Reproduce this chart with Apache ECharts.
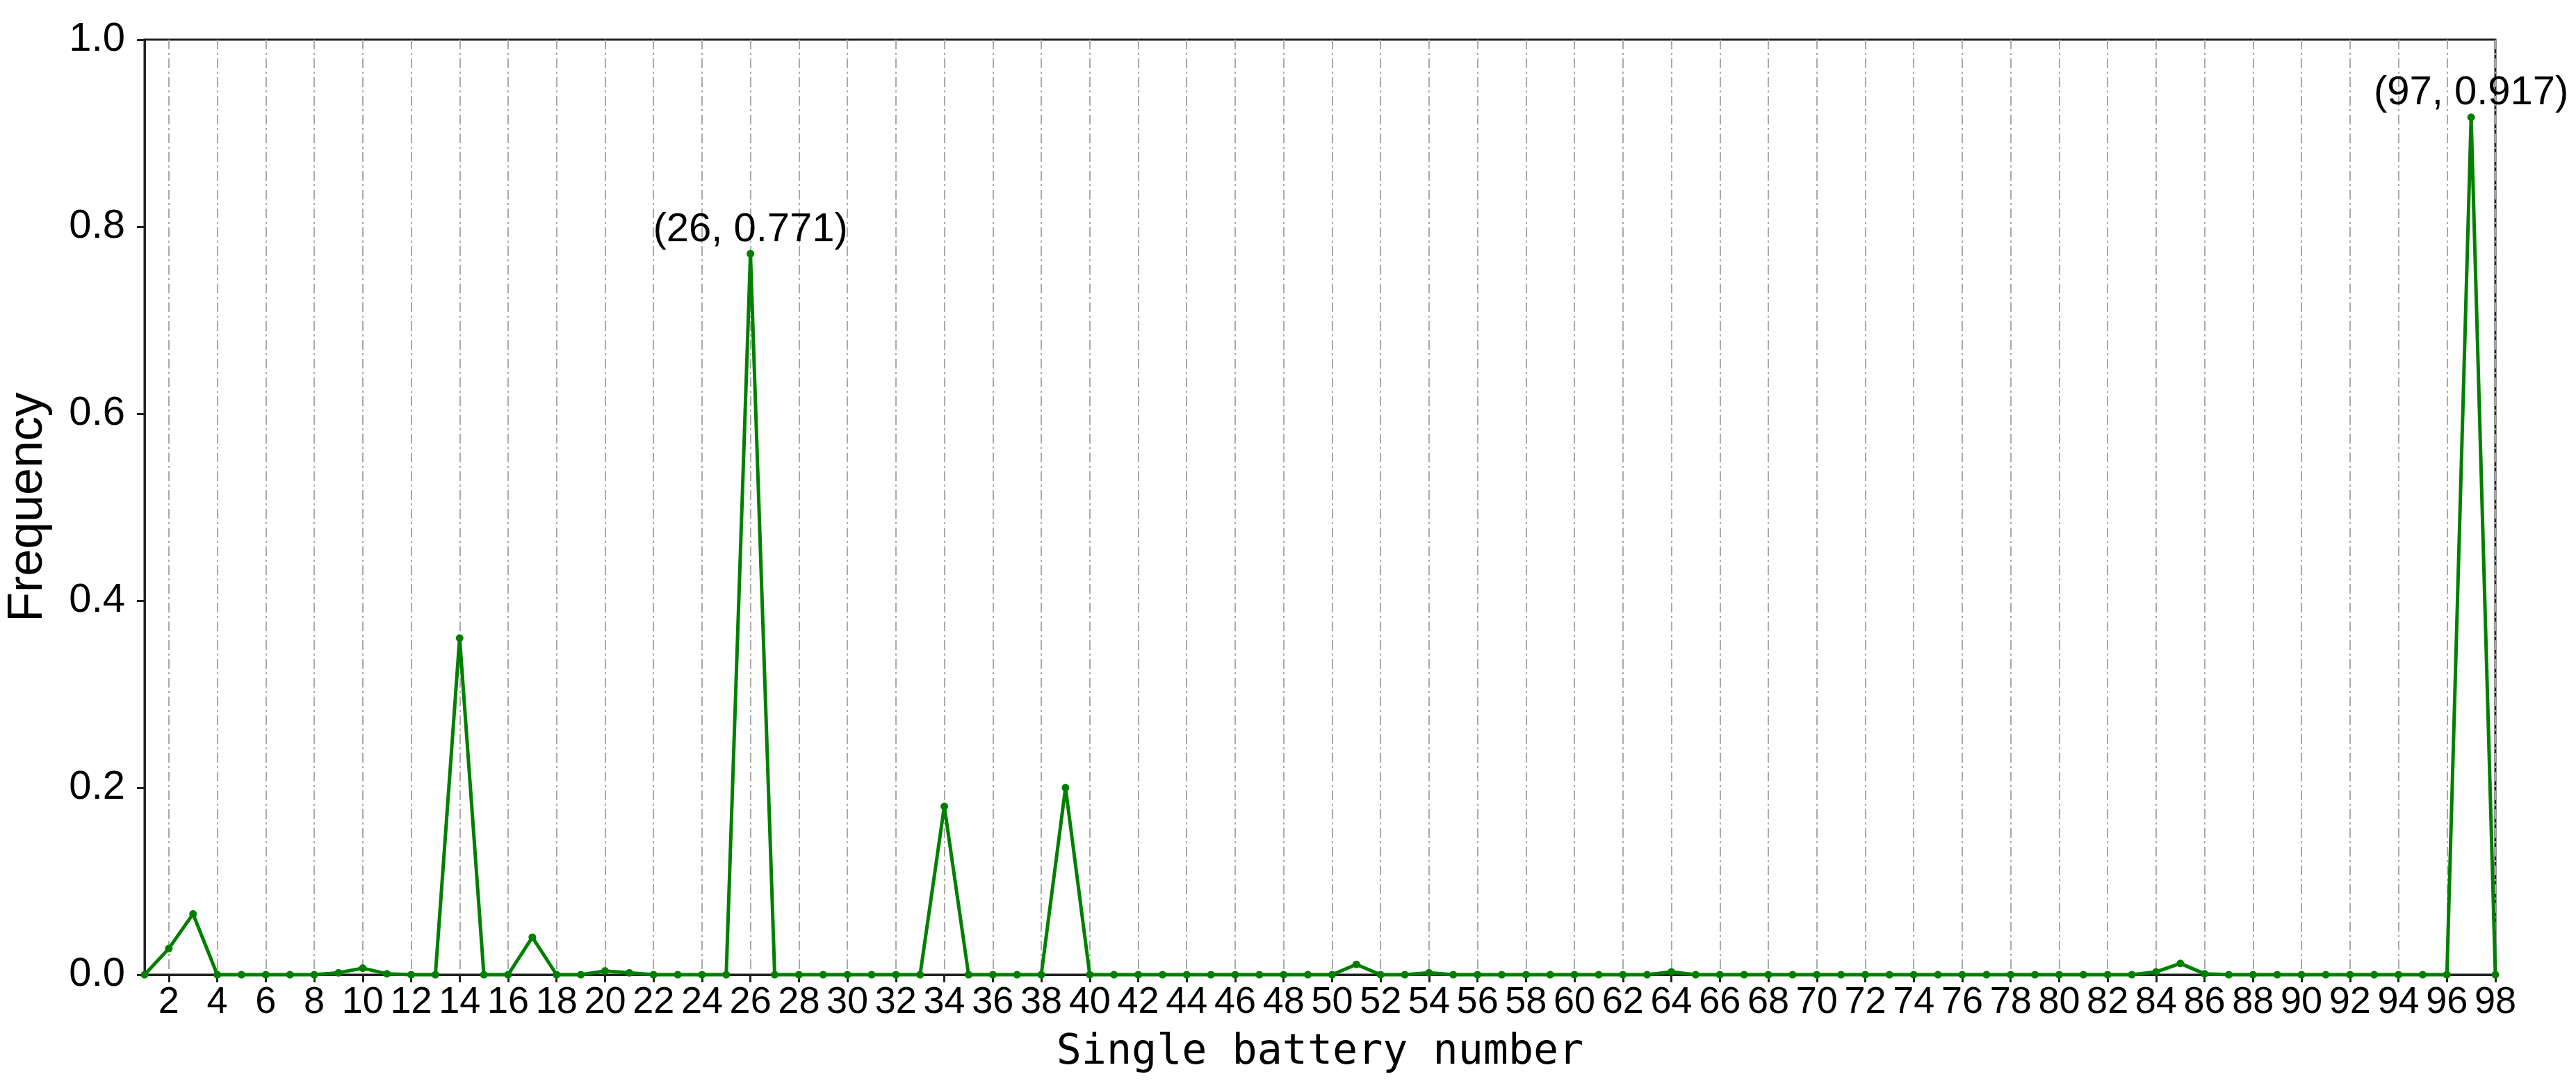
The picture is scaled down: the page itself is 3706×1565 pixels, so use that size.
<!DOCTYPE html>
<html>
<head>
<meta charset="utf-8">
<script src="https://cdn.jsdelivr.net/npm/echarts@6/dist/echarts.min.js"></script>
<style>
html,body{margin:0;padding:0;background:#fff;}
#chart{width:3706px;height:1565px;}
</style>
</head>
<body>
<div id="chart"></div>
<script>
const batteryNumbers = [1,2,3,4,5,6,7,8,9,10,11,12,13,14,15,16,17,18,19,20,
  21,22,23,24,25,26,27,28,29,30,31,32,33,34,35,36,37,38,39,40,
  41,42,43,44,45,46,47,48,49,50,51,52,53,54,55,56,57,58,59,60,
  61,62,63,64,65,66,67,68,69,70,71,72,73,74,75,76,77,78,79,80,
  81,82,83,84,85,86,87,88,89,90,91,92,93,94,95,96,97,98];
const frequency = [
  0, 0.028, 0.065, 0, 0, 0, 0, 0, 0.002, 0.007,
  0.001, 0, 0, 0.36, 0, 0, 0.04, 0, 0, 0.004,
  0.002, 0, 0, 0, 0, 0.771, 0, 0, 0, 0,
  0, 0, 0, 0.18, 0, 0, 0, 0, 0.2, 0,
  0, 0, 0, 0, 0, 0, 0, 0, 0, 0,
  0.011, 0, 0, 0.002, 0, 0, 0, 0, 0, 0,
  0, 0, 0, 0.003, 0, 0, 0, 0, 0, 0,
  0, 0, 0, 0, 0, 0, 0, 0, 0, 0,
  0, 0, 0, 0.003, 0.012, 0.001, 0, 0, 0, 0,
  0, 0, 0, 0, 0, 0, 0.917, 0
];
const annotatedBatteries = [26, 97];
const yTickValues = [0, 0.2, 0.4, 0.6, 0.8, 1.0];

const tickFont = '"Liberation Sans Narrow", "Liberation Sans", sans-serif';
const seriesData = frequency.map((v, i) => {
  const item = { value: v };
  if (annotatedBatteries.indexOf(batteryNumbers[i]) >= 0) {
    item.label = {
      show: true,
      position: 'top',
      distance: 0,
      formatter: '(' + batteryNumbers[i] + ', ' + v.toFixed(3) + ')',
      fontFamily: tickFont,
      fontSize: 58,
      color: '#000'
    };
  }
  return item;
});

const chart = echarts.init(document.getElementById('chart'), null, { renderer: 'canvas' });
const even = (idx, val) => Number(val) % 2 === 0;
chart.setOption({
  animation: false,
  backgroundColor: '#fff',
  grid: {
    left: 208, right: 116, top: 57, bottom: 163,
    show: true, borderColor: '#222', borderWidth: 3,
    outerBoundsMode: 'none', containLabel: false
  },
  xAxis: {
    type: 'category',
    data: batteryNumbers,
    boundaryGap: false,
    name: 'Single battery number',
    nameLocation: 'middle',
    nameGap: 82,
    nameTextStyle: { fontFamily: '"DejaVu Sans Mono", monospace', fontSize: 60, color: '#000' },
    axisLine: { show: true, lineStyle: { color: '#222', width: 3 } },
    axisTick: { show: true, interval: even, length: 11, lineStyle: { color: '#222', width: 3 } },
    axisLabel: { interval: even, margin: 13, fontFamily: tickFont, fontSize: 54, color: '#000' },
    splitLine: { show: true, interval: even, lineStyle: { color: '#aaaaaa', width: 2, type: [14, 5, 3, 5] } }
  },
  yAxis: {
    type: 'value',
    min: 0, max: 1, interval: 0.2,
    name: 'Frequency',
    nameLocation: 'middle',
    nameGap: 132,
    nameRotate: 90,
    nameTextStyle: { fontFamily: '"Liberation Sans", Arial, sans-serif', fontSize: 70, color: '#000' },
    axisLine: { show: true, lineStyle: { color: '#222', width: 3 } },
    axisTick: { show: true, length: 11, lineStyle: { color: '#222', width: 3 } },
    axisLabel: { margin: 28, fontFamily: tickFont, fontSize: 58, color: '#000',
      formatter: v => yTickValues.some(t => Math.abs(t - v) < 1e-9) ? v.toFixed(1) : '' },
    splitLine: { show: false }
  },
  series: [{
    type: 'line',
    data: seriesData,
    color: '#008000',
    lineStyle: { color: '#008000', width: 5 },
    itemStyle: { color: '#008000' },
    symbol: 'circle',
    symbolSize: 11,
    showAllSymbol: true,
    clip: false
  }]
});
</script>
</body>
</html>
